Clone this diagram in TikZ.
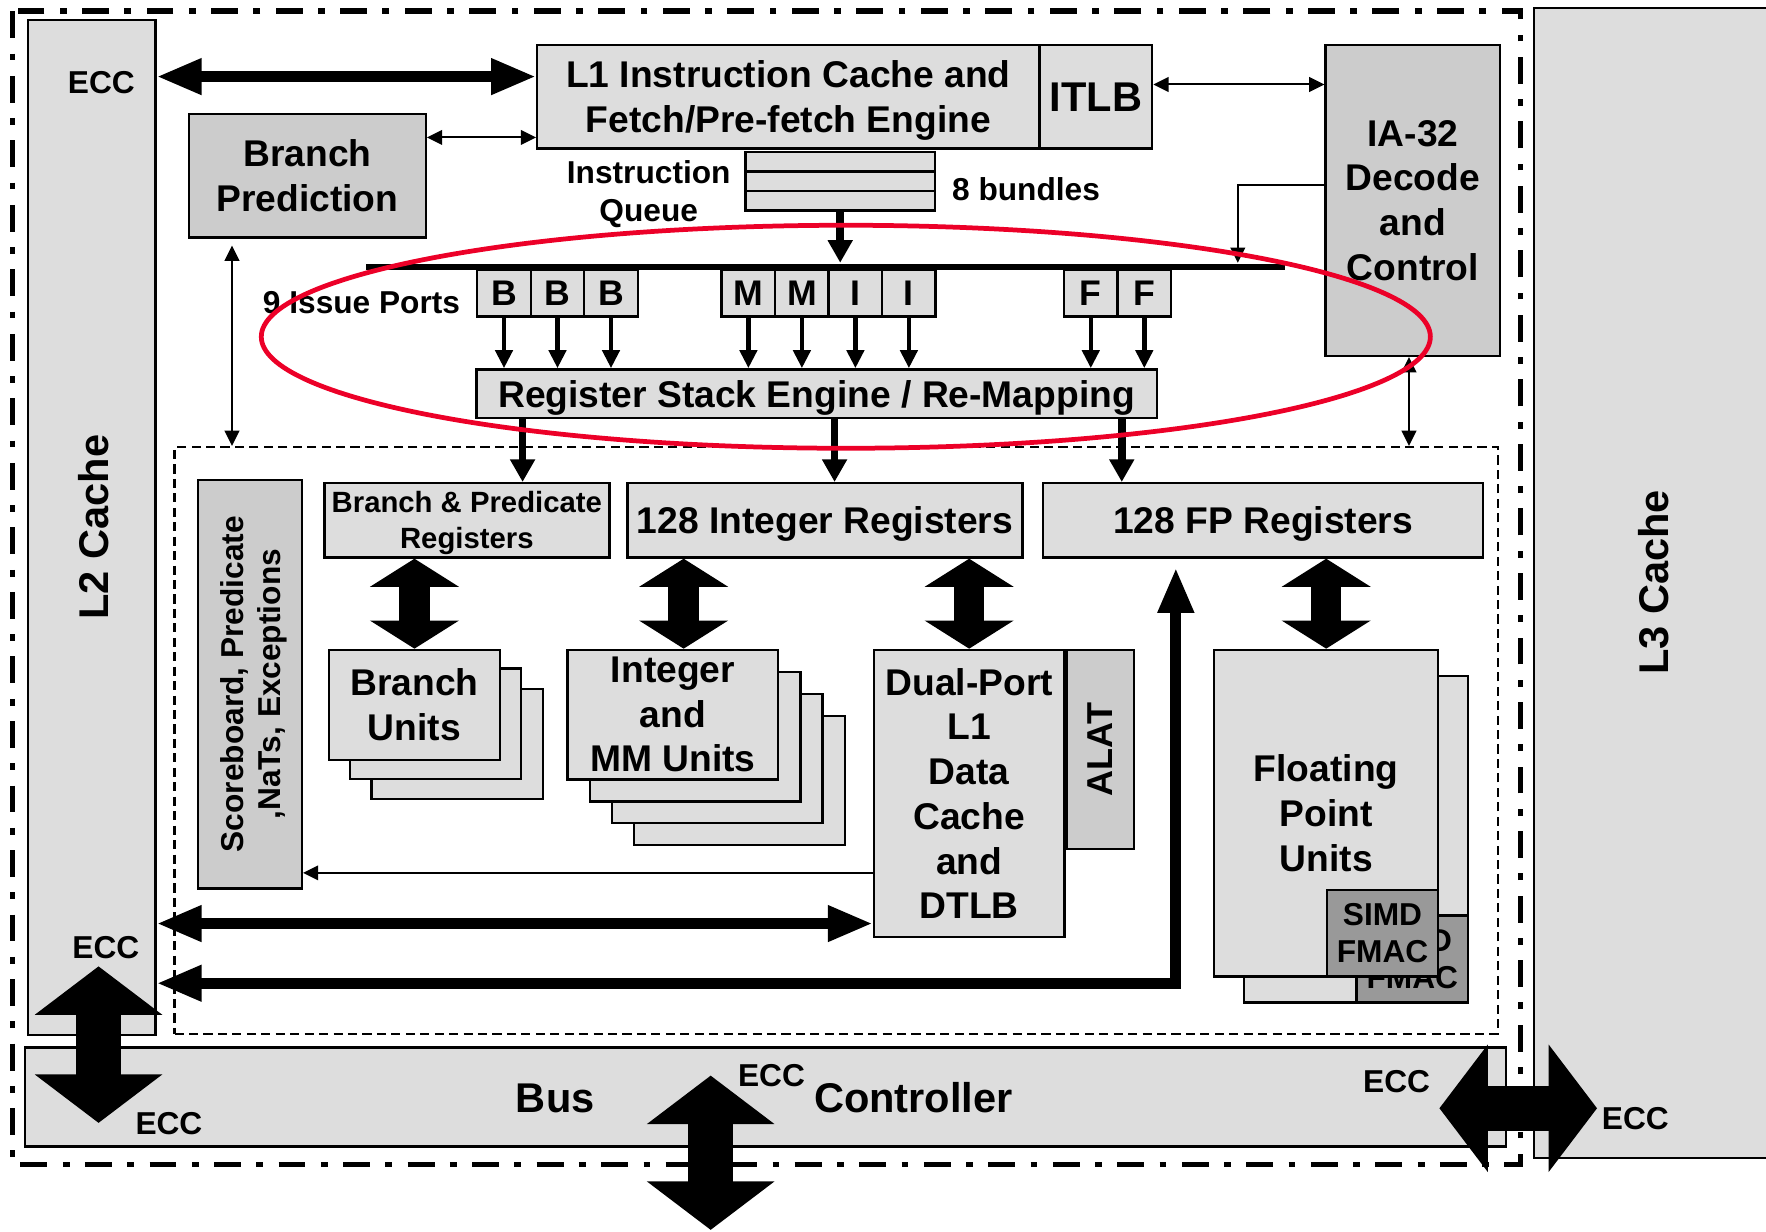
\documentclass[tikz,border=0pt]{standalone}
\usepackage{fontspec}
\setmainfont{Liberation Sans}
\usepackage{tikz}
\usetikzlibrary{arrows.meta}

\definecolor{boxlight}{gray}{0.865}
\definecolor{boxmid}{gray}{0.80}
\definecolor{boxdark}{gray}{0.60}
\definecolor{focusred}{RGB}{236,0,40}

\newcommand{\fnorm}{\fontsize{9.4pt}{11.3pt}\selectfont\bfseries}
\newcommand{\fbig}{\fontsize{10.5pt}{12.6pt}\selectfont\bfseries}
\newcommand{\fsmall}{\fontsize{8pt}{9.5pt}\selectfont\bfseries}
\newcommand{\ftiny}{\fontsize{7.4pt}{9.1pt}\selectfont\bfseries}

\tikzstyle{block} = [rectangle, draw=black, line width=0.6pt, fill=boxlight, inner sep=0pt, align=center, font=\fnorm]
\tikzstyle{darkblock} = [block, fill=boxmid]
\tikzstyle{simd} = [block, fill=boxdark, font=\fsmall, minimum width=0.99cm, minimum height=0.77cm]
\tikzstyle{port} = [block, minimum width=0.475cm, minimum height=0.41cm, font=\fontsize{9pt}{10pt}\selectfont\bfseries]
\tikzstyle{lbl} = [align=center, font=\fsmall, inner sep=0pt]
\tikzstyle{chipframe} = [line width=1.4pt, dash pattern=on 6.8pt off 3.9pt on 1.7pt off 3.9pt]
\tikzstyle{corebox} = [rectangle, draw=black, line width=0.6pt, dash pattern=on 2.3pt off 1.35pt]
\tikzstyle{link} = [line width=0.5pt, >={Triangle[length=1.35mm,width=1.3mm]}]
\tikzstyle{issue} = [line width=1.15pt, ->, >={Triangle[length=1.6mm,width=1.5mm]}]
\tikzstyle{feed} = [line width=1.9pt, ->, >={Triangle[length=2mm,width=2.1mm]}]
\tikzstyle{bus} = [line width=0.95mm, <->, line join=miter, >={Triangle[length=4mm,width=3mm]}]
\tikzstyle{wide} = [line width=2.7mm, <->, >={Triangle[length=2.5mm,width=7.8mm]}]
\tikzstyle{huge} = [line width=4mm, <->, >={Triangle[length=4.3mm,width=11.1mm]}]
\tikzstyle{focus} = [draw=focusred, line width=1.2pt]

\begin{document}
\begin{tikzpicture}[x=0.1mm, y=-0.1mm, node distance=0.475cm]
\useasboundingbox (0,0) rectangle (1568,1093);

% chip outline and the off-chip L3
\draw [chipframe] (11,10) rectangle (1350,1034);
\node (l3) [block, minimum width=2.12cm, minimum height=10.21cm] at (1468,517.5) {};
\node (l3name) [rotate=90, font=\fbig] at (1468,517) {L3 Cache};
\node (l2) [block, minimum width=1.13cm, minimum height=9.01cm] at (81.5,468.5) {};
\node (l2name) [rotate=90, font=\fbig] at (83,468) {L2 Cache};
\node (core) [corebox, minimum width=11.75cm, minimum height=5.21cm] at (742.5,657.5) {};

% front end
\node (l1) [block, minimum width=4.46cm, minimum height=0.92cm] at (700,86) {L1 Instruction Cache and\\\smash{Fetch/Pre-fetch Engine}};
\node (itlb) [block, font=\fbig, minimum width=1.00cm, minimum height=0.92cm, right of=l1, node distance=2.73cm] {ITLB};
\node (bp) [darkblock, minimum width=2.10cm, minimum height=1.10cm] at (273,156) {Branch\\Prediction};
\node (ia32) [darkblock, minimum width=1.55cm, minimum height=2.76cm] at (1254.5,178) {IA-32\\Decode\\and\\Control};
\node (q1) [block, minimum width=1.68cm, minimum height=0.1733cm] at (746,143.7) {};
\node (q2) [block, minimum width=1.68cm, minimum height=0.1733cm, below of=q1, node distance=0.1733cm] {};
\node (q3) [block, minimum width=1.68cm, minimum height=0.1733cm, below of=q2, node distance=0.1733cm] {};
\node (qname) [lbl] at (576,172.5) {Instruction\\Queue};
\node (bundles) [lbl] at (911,168) {8 bundles};

% issue ports
\node (bar) [rectangle, fill=black, inner sep=0pt, minimum width=8.16cm, minimum height=0.06cm] at (733,237) {};
\node (b1) [port] at (447.5,260.5) {B};
\node (b2) [port, right of=b1] {B};
\node (b3) [port, right of=b2] {B};
\node (m1) [port] at (664.5,260.5) {M};
\node (m2) [port, right of=m1] {M};
\node (i1) [port, right of=m2] {I};
\node (i2) [port, right of=i1] {I};
\node (f1) [port] at (968.5,260.5) {F};
\node (f2) [port, right of=f1] {F};
\node (ports) [lbl] at (321,269) {9 Issue Ports};
\node (rse) [block, text depth=0pt, minimum width=6.04cm, minimum height=0.43cm] at (725,349.5) {Register Stack Engine / Re-Mapping};

% register files
\node (bpregs) [block, font=\ftiny, minimum width=2.53cm, minimum height=0.66cm] at (414.5,462) {Branch \& Predicate\\\smash{Registers}};
\node (intregs) [block, text depth=0pt, minimum width=3.51cm, minimum height=0.66cm] at (732.5,462) {128 Integer Registers};
\node (fpregs) [block, text depth=0pt, minimum width=3.91cm, minimum height=0.66cm] at (1121.5,462) {128 FP Registers};
\node (sb) [darkblock, minimum width=0.92cm, minimum height=3.63cm] at (222,607.5) {};
\node (sbname) [rotate=90, font=\fsmall, align=center] at (225.5,607.5) {Scoreboard, Predicate\\,NaTs, Exceptions};

% execution units
\node (bu3) [block, minimum width=1.52cm, minimum height=0.98cm] at (406,660.5) {};
\node (bu2) [block, minimum width=1.52cm, minimum height=0.98cm] at (386.5,642.5) {};
\node (bu) [block, minimum width=1.52cm, minimum height=0.98cm] at (368,626) {Branch\\Units};
\node (iu4) [block, minimum width=1.87cm, minimum height=1.15cm] at (656.6,693) {};
\node (iu3) [block, minimum width=1.87cm, minimum height=1.15cm] at (636.9,673.5) {};
\node (iu2) [block, minimum width=1.87cm, minimum height=1.15cm] at (617.2,654) {};
\node (iu) [block, minimum width=1.87cm, minimum height=1.15cm] at (597.5,634.5) {Integer\\and\\MM Units};
\node (dport) [block, minimum width=1.69cm, minimum height=2.55cm] at (860.5,704.5) {Dual-Port\\L1\\Data\\Cache\\and\\DTLB};
\node (alat) [darkblock, minimum width=0.60cm, minimum height=1.77cm, anchor=north west] at (dport.north east) {};
\node (alatname) [rotate=90, font=\fontsize{9.1pt}{11pt}\selectfont\bfseries] at (alat.center) {ALAT};
\node (fpu2) [block, minimum width=1.99cm, minimum height=2.90cm] at (1204,745) {};
\node (simd2) [simd, anchor=south east] at (fpu2.south east) {SIMD\\FMAC};
\node (fpu) [block, minimum width=1.99cm, minimum height=2.90cm] at (1177.5,722) {Floating\\Point\\Units};
\node (simd) [simd, anchor=south east] at (fpu.south east) {SIMD\\FMAC};

% bus controller
\node (bus) [block, minimum width=13.15cm, minimum height=0.88cm] at (679.5,974) {};
\node (busname) [font=\fbig] at (493,975) {Bus};
\node (ctlname) [font=\fbig] at (811,975) {Controller};
\node (ecc1) [lbl] at (90,73) {ECC};
\node (ecc2) [lbl] at (94,841) {ECC};
\node (ecc3) [lbl] at (150,998) {ECC};
\node (ecc4) [lbl] at (685,955) {ECC};
\node (ecc5) [lbl] at (1240,960) {ECC};
\node (ecc6) [lbl] at (1452,993) {ECC};

% taps for the connectors
\coordinate (l2fetch) at (0,68);
\coordinate (bpfetch) at (0,122);
\coordinate (tlbctl) at (0,75);
\coordinate (ctlbar) at (1099,164);
\coordinate (bptap) at (464,0);
\coordinate (inttap) at (741,0);
\coordinate (fptap) at (996,0);
\coordinate (iutap) at (607,0);
\coordinate (bpcore) at (206,0);
\coordinate (ctlcore) at (1251,0);
\coordinate (sbline) at (0,775);
\coordinate (dpline) at (0,820);
\coordinate (fpret) at (1044,873);
\coordinate (l2dn) at (87.5,858);
\coordinate (l2bus) at (87.5,997);
\coordinate (sysup) at (631,955);
\coordinate (sysdn) at (631,1092);
\coordinate (l3west) at (1278,984);
\coordinate (l3east) at (1418,984);

\draw [bus] (l2.east |- l2fetch) -- (l1.west |- l2fetch);
\draw [link, <->] (bp.east |- bpfetch) -- (l1.west |- bpfetch);
\draw [link, <->] (itlb.east |- tlbctl) -- (ia32.west |- tlbctl);
\draw [feed] (q3.south) -- (q3.south |- bar.north);
\draw [link, ->] (ia32.west |- ctlbar) -- (ctlbar) -- (ctlbar |- bar.north);

\draw [issue] (b1.south) -- (b1.south |- rse.north);
\draw [issue] (b2.south) -- (b2.south |- rse.north);
\draw [issue] (b3.south) -- (b3.south |- rse.north);
\draw [issue] (m1.south) -- (m1.south |- rse.north);
\draw [issue] (m2.south) -- (m2.south |- rse.north);
\draw [issue] (i1.south) -- (i1.south |- rse.north);
\draw [issue] (i2.south) -- (i2.south |- rse.north);
\draw [issue] (f1.south) -- (f1.south |- rse.north);
\draw [issue] (f2.south) -- (f2.south |- rse.north);

\draw [feed] (rse.south -| bptap) -- (bpregs.north -| bptap);
\draw [feed] (rse.south -| inttap) -- (intregs.north -| inttap);
\draw [feed] (rse.south -| fptap) -- (fpregs.north -| fptap);

\draw [wide] (bpregs.south -| bu.north) -- (bu.north);
\draw [wide] (intregs.south -| iutap) -- (iu.north -| iutap);
\draw [wide] (fpregs.south -| dport.north) -- (dport.north);
\draw [wide] (fpregs.south -| fpu.north) -- (fpu.north);

\draw [link, <->, shorten <=0.6mm] (bp.south -| bpcore) -- (core.north -| bpcore);
\draw [link, <->] (ia32.south -| ctlcore) -- (core.north -| ctlcore);
\draw [link, ->] (dport.west |- sbline) -- (sb.east |- sbline);

\draw [bus] (l2.east |- dpline) -- (dport.west |- dpline);
\draw [bus, shorten <=0.8mm] (fpregs.south -| fpret) -- (fpret) -- (l2.east |- fpret);

\draw [huge] (l2dn) -- (l2bus);
\draw [huge] (sysup) -- (sysdn);
\draw [huge] (l3west) -- (l3east);

% issue logic highlighted
\draw [focus] (751,299) ellipse [x radius=5.19cm, y radius=0.99cm];

\end{tikzpicture}
\end{document}
